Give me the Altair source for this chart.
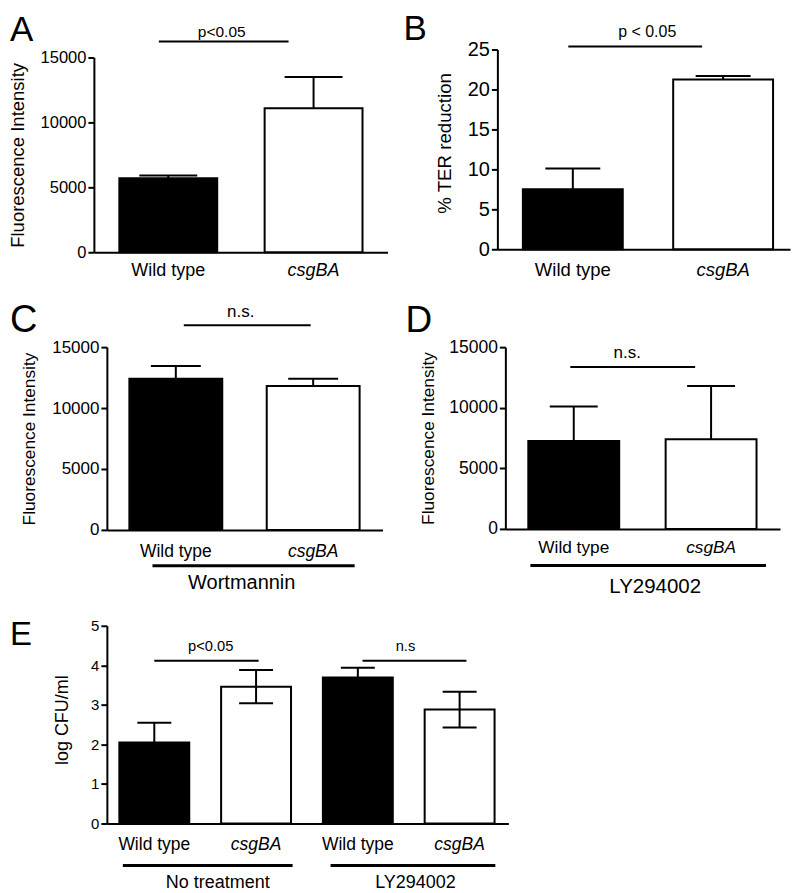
import altair as alt
import pandas as pd

# ---------------- data ----------------
categories = ["Wild type", "csgBA"]
a_means = [5700, 11100]
a_errs = [220, 2400]
b_means = [7.5, 21.25]
b_errs = [2.6, 0.45]
c_means = [12400, 11800]
c_errs = [1050, 600]
d_means = [7250, 7400]
d_errs = [2850, 4400]
e_categories = ["Wild type", "csgBA", "Wild type", "csgBA"]
e_means = [2.05, 3.46, 3.69, 2.88]
e_errs = [0.5, 0.42, 0.25, 0.45]
fluor_ticks = [0, 5000, 10000, 15000]
ter_ticks = [0, 5, 10, 15, 20, 25]
cfu_ticks = [0, 1, 2, 3, 4, 5]

FONT = "Liberation Sans, Arial, sans-serif"
W, H = 784, 877

panels_cfg = [
    dict(letter="A", cats=categories, means=a_means, errs=a_errs, both=False,
         xdom=[-0.512, 1.509], xrange=[85, 379], ydom=[0, 15000], yrange=[244, 49],
         ticks=fluor_ticks, ytitle="Fluorescence Intensity", tick_fs=16.5, title_fs=18.5,
         title_pad=13, title_y=None,
         bar_w=98, cap_w=58, xlab_y=-1846, xlab_fs=18,
         sig=[(-0.065, 0.828, 16231)], sig_txt=[(0.368, 16577, "p<0.05")], sig_fs=15.5,
         groups=[], group_txt=[], group_fs=20,
         let_x=-1.089, let_y=16300, let_fs=35),
    dict(letter="B", cats=categories, means=b_means, errs=b_errs, both=False,
         xdom=[-0.502, 1.445], xrange=[489, 782], ydom=[0, 25], yrange=[241, 41],
         ticks=ter_ticks, ytitle="% TER reduction", tick_fs=20, title_fs=18.7,
         title_pad=13, title_y=134.5,
         bar_w=100, cap_w=55, xlab_y=-3.375, xlab_fs=18.5,
         sig=[(-0.03, 0.86, 25.375)], sig_txt=[(0.495, 26.6, "p < 0.05")], sig_fs=16,
         groups=[], group_txt=[], group_fs=20,
         let_x=-1.126, let_y=26.15, let_fs=35),
    dict(letter="C", cats=categories, means=c_means, errs=c_errs, both=False,
         xdom=[-0.502, 1.505], xrange=[98, 374], ydom=[0, 15000], yrange=[522, 339],
         ticks=fluor_ticks, ytitle="Fluorescence Intensity", tick_fs=17, title_fs=17.3,
         title_pad=13, title_y=None,
         bar_w=93, cap_w=50, xlab_y=-2189, xlab_fs=17.5,
         sig=[(0.058, 0.982, 16803)], sig_txt=[(0.473, 17500, "n.s.")], sig_fs=17,
         groups=[(-0.17, 1.302, -2951)], group_txt=[(0.48, -4861, "Wortmannin")], group_fs=20,
         let_x=-1.207, let_y=16230, let_fs=38),
    dict(letter="D", cats=categories, means=d_means, errs=d_errs, both=False,
         xdom=[-0.498, 1.502], xrange=[497, 772], ydom=[0, 15000], yrange=[521, 339],
         ticks=fluor_ticks, ytitle="Fluorescence Intensity", tick_fs=17.5, title_fs=17.3,
         title_pad=11, title_y=None,
         bar_w=91, cap_w=48, xlab_y=-1978, xlab_fs=17.3,
         sig=[(-0.025, 0.884, 13352)], sig_txt=[(0.389, 14093, "n.s.")], sig_fs=17,
         groups=[(-0.316, 1.4, -3025)], group_txt=[(0.593, -5275, "LY294002")], group_fs=20.5,
         let_x=-1.225, let_y=16236, let_fs=37),
    dict(letter="E", cats=e_categories, means=e_means, errs=e_errs, both=True,
         xdom=[-0.466, 3.479], xrange=[98, 500], ydom=[0, 5], yrange=[816, 618],
         ticks=cfu_ticks, ytitle="log CFU/ml", tick_fs=15, title_fs=18,
         title_pad=19, title_y=712,
         bar_w=70, cap_w=34, xlab_y=-0.657, xlab_fs=17.5,
         sig=[(0.0, 1.025, 4.116), (2.046, 3.067, 4.116)],
         sig_txt=[(0.554, 4.35, "p<0.05"), (2.468, 4.35, "n.s")], sig_fs=14.7,
         groups=[(-0.309, 1.359, -1.06), (1.732, 3.351, -1.06)],
         group_txt=[(0.623, -1.64, "No treatment"), (2.566, -1.64, "LY294002")], group_fs=18,
         let_x=-1.418, let_y=4.52, let_fs=33),
]


def make_panel(cfg):
    n = len(cfg["means"])
    df = pd.DataFrame({"idx": list(range(n)), "mean": cfg["means"],
                       "err": cfg["errs"], "cat": cfg["cats"]})
    df["hi"] = df["mean"] + df["err"]
    df["lo"] = (df["mean"] - df["err"]) if cfg["both"] else df["mean"]
    df["fill"] = ["black" if c == "Wild type" else "white" for c in df["cat"]]
    df["italic"] = [c != "Wild type" for c in df["cat"]]
    df["laby"] = cfg["xlab_y"]

    xs = alt.Scale(domain=cfg["xdom"], range=cfg["xrange"], nice=False, zero=False, padding=0)
    ys = alt.Scale(domain=cfg["ydom"], range=cfg["yrange"], nice=False, zero=False, padding=0)
    xaxis = alt.Axis(orient="bottom", offset=cfg["yrange"][0] - H, labels=False, ticks=False,
                     grid=False, domainWidth=2, domainColor="black", title="")
    yaxis_kw = dict(orient="left", offset=-cfg["xrange"][0], values=cfg["ticks"], grid=False,
                    domainWidth=2, domainColor="black", tickWidth=2, tickColor="black",
                    tickSize=6, labelFont=FONT, labelFontSize=cfg["tick_fs"], labelColor="black",
                    labelPadding=2, title=cfg["ytitle"], titleFont=FONT,
                    titleFontSize=cfg["title_fs"], titleFontWeight="normal", titleColor="black",
                    titlePadding=cfg["title_pad"], format="d")
    if cfg["title_y"] is not None:
        yaxis_kw["titleY"] = cfg["title_y"]
    yaxis = alt.Axis(**yaxis_kw)

    # the same axis object in every layer so the shared axes merge cleanly
    def X(f):
        return alt.X(f, scale=xs, axis=xaxis)

    def Y(f):
        return alt.Y(f, scale=ys, axis=yaxis)

    base = alt.Chart(df)
    layers = []
    layers.append(base.mark_bar(orient="vertical", size=cfg["bar_w"], stroke="black",
                                strokeWidth=2).encode(
        x=X("idx:Q"), y=Y("mean:Q"), y2=alt.datum(0),
        fill=alt.Fill("fill:N", scale=None),
    ))
    layers.append(base.mark_rule(color="black", strokeWidth=2).encode(
        x=X("idx:Q"), y=Y("lo:Q"), y2="hi:Q"))
    layers.append(base.mark_tick(orient="horizontal", size=cfg["cap_w"], thickness=2,
                                 color="black", opacity=1).encode(x=X("idx:Q"), y=Y("hi:Q")))
    if cfg["both"]:
        layers.append(base.mark_tick(orient="horizontal", size=cfg["cap_w"], thickness=2,
                                     color="black", opacity=1).encode(x=X("idx:Q"), y=Y("lo:Q")))
    # x category labels
    for it in (False, True):
        layers.append(base.transform_filter(alt.datum.italic == it).mark_text(
            align="center", baseline="alphabetic", font=FONT, fontSize=cfg["xlab_fs"],
            fontStyle="italic" if it else "normal", color="black").encode(
            x=X("idx:Q"), y=Y("laby:Q"), text="cat:N"))
    # significance lines
    sig = pd.DataFrame(cfg["sig"], columns=["x", "x2", "y"])
    layers.append(alt.Chart(sig).mark_rule(color="black", strokeWidth=2).encode(
        x=X("x:Q"), x2="x2:Q", y=Y("y:Q")))
    sigt = pd.DataFrame(cfg["sig_txt"], columns=["x", "y", "t"])
    layers.append(alt.Chart(sigt).mark_text(align="center", baseline="alphabetic", font=FONT,
                                            fontSize=cfg["sig_fs"], color="black").encode(
        x=X("x:Q"), y=Y("y:Q"), text="t:N"))
    # treatment group lines
    if cfg["groups"]:
        grp = pd.DataFrame(cfg["groups"], columns=["x", "x2", "y"])
        layers.append(alt.Chart(grp).mark_rule(color="black", strokeWidth=3).encode(
            x=X("x:Q"), x2="x2:Q", y=Y("y:Q")))
        grpt = pd.DataFrame(cfg["group_txt"], columns=["x", "y", "t"])
        layers.append(alt.Chart(grpt).mark_text(align="center", baseline="alphabetic",
                                                font=FONT, fontSize=cfg["group_fs"],
                                                color="black").encode(
            x=X("x:Q"), y=Y("y:Q"), text="t:N"))
    # panel letter
    let = pd.DataFrame({"x": [cfg["let_x"]], "y": [cfg["let_y"]], "t": [cfg["letter"]]})
    layers.append(alt.Chart(let).mark_text(align="left", baseline="alphabetic", font=FONT,
                                           fontSize=cfg["let_fs"], color="black").encode(
        x=X("x:Q"), y=Y("y:Q"), text="t:N"))
    return alt.layer(*layers)


panels = [make_panel(c) for c in panels_cfg]

chart = alt.layer(*panels).resolve_scale(
    x="independent", y="independent"
).resolve_axis(
    x="independent", y="independent"
).properties(
    width=W, height=H, padding=0
).configure_view(strokeWidth=0)

chart.save("out.html", embed_options={"renderer": "svg", "actions": False})
